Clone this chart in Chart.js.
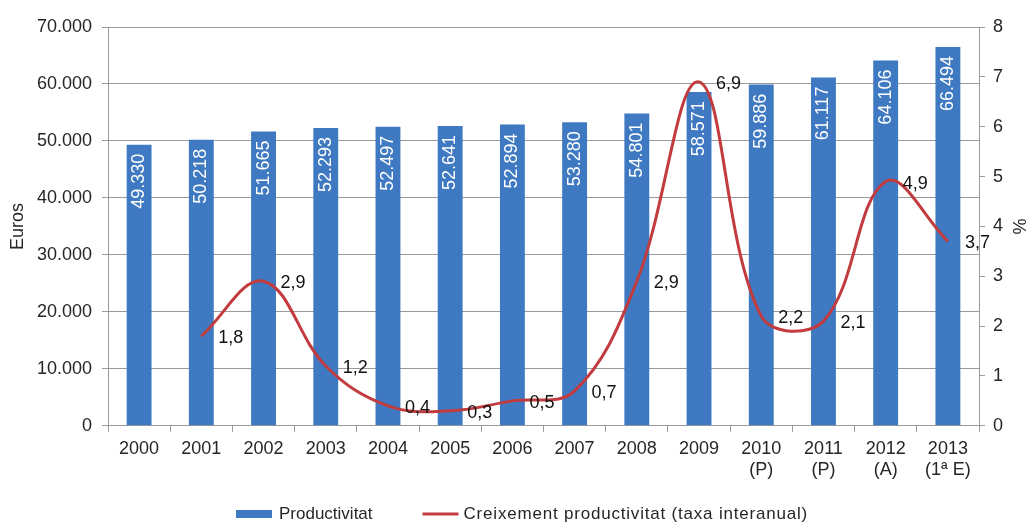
<!DOCTYPE html>
<html>
<head>
<meta charset="utf-8">
<title>Productivitat</title>
<script src="https://cdn.jsdelivr.net/npm/chart.js@4.4.1/dist/chart.umd.min.js"></script>
<style>
  html, body { margin: 0; padding: 0; background: #fff; }
  #wrap { width: 1030px; height: 523px; }
</style>
</head>
<body>
<div id="wrap"><canvas id="chart" width="1030" height="523"></canvas></div>
<script>
// Dades del gràfic
const categories = [
  "2000", "2001", "2002", "2003", "2004", "2005", "2006", "2007", "2008", "2009",
  ["2010", "(P)"], ["2011", "(P)"], ["2012", "(A)"], ["2013", "(1ª E)"]
];
const productivitat = [49330, 50218, 51665, 52293, 52497, 52641, 52894, 53280, 54801, 58571, 59886, 61117, 64106, 66494];
const creixement = [null, 1.8, 2.9, 1.2, 0.4, 0.3, 0.5, 0.7, 2.9, 6.9, 2.2, 2.1, 4.9, 3.7];
const eurosAxis = { min: 0, max: 70000, step: 10000 };
const pctAxis = { min: 0, max: 8, step: 1 };
const legendLabels = ["Productivitat", "Creixement productivitat (taxa interanual)"];

const FONT = "'Liberation Sans', Arial, sans-serif";
const TEXT = "#262626";
const BLUE = "#3e79c1";
const RED = "#c23b3e";
const GRID = "#9a9a9a";

// format 52.497 / 1,8
function fmtMiles(v) {
  return String(v).replace(/\B(?=(\d{3})+(?!\d))/g, ".");
}
function fmtPct(v) {
  return v.toFixed(1).replace(".", ",");
}

// Etiquetes blanques girades dins de les barres
const barLabels = {
  id: "barLabels",
  afterDatasetsDraw(chart) {
    const ctx = chart.ctx;
    const meta = chart.getDatasetMeta(0);
    ctx.save();
    ctx.font = "18px " + FONT;
    ctx.fillStyle = "#ffffff";
    ctx.textAlign = "right";
    ctx.textBaseline = "middle";
    meta.data.forEach(function (bar, i) {
      ctx.save();
      ctx.translate(bar.x, bar.y + 9);
      ctx.rotate(-Math.PI / 2);
      ctx.fillText(fmtMiles(productivitat[i]), 0, 0);
      ctx.restore();
    });
    ctx.restore();
  }
};

// Etiquetes de la línia, a la dreta de cada punt
const lineLabels = {
  id: "lineLabels",
  afterDatasetsDraw(chart) {
    const ctx = chart.ctx;
    const meta = chart.getDatasetMeta(1);
    ctx.save();
    ctx.font = "18px " + FONT;
    ctx.fillStyle = "#111111";
    ctx.textAlign = "left";
    ctx.textBaseline = "middle";
    meta.data.forEach(function (pt, i) {
      if (creixement[i] === null) return;
      ctx.fillText(fmtPct(creixement[i]), pt.x + 17, pt.y + 2);
    });
    ctx.restore();
  }
};

// Llegenda a sota
const bottomLegend = {
  id: "bottomLegend",
  afterDraw(chart) {
    const ctx = chart.ctx;
    ctx.save();
    ctx.font = "17px " + FONT;
    ctx.textBaseline = "middle";
    ctx.textAlign = "left";
    const w1 = 43 + ctx.measureText(legendLabels[0]).width;
    ctx.letterSpacing = "0.8px";
    const w2 = 41 + ctx.measureText(legendLabels[1]).width;
    ctx.letterSpacing = "0px";
    const gap = 50;
    const total = w1 + gap + w2;
    const y = chart.height - 9;
    let x = chart.width / 2 + 7 - total / 2;

    ctx.fillStyle = BLUE;
    ctx.fillRect(x, y - 4, 36, 8);
    ctx.fillStyle = TEXT;
    ctx.fillText(legendLabels[0], x + 43, y);

    x += w1 + gap;
    ctx.strokeStyle = RED;
    ctx.lineWidth = 3;
    ctx.beginPath();
    ctx.moveTo(x, y);
    ctx.lineTo(x + 36, y);
    ctx.stroke();
    ctx.fillStyle = TEXT;
    ctx.letterSpacing = "0.8px";
    ctx.fillText(legendLabels[1], x + 41, y);
    ctx.restore();
  }
};

const tickFont = { family: FONT, size: 18 };

new Chart(document.getElementById("chart"), {
  type: "bar",
  data: {
    labels: categories,
    datasets: [
      {
        type: "bar",
        label: legendLabels[0],
        data: productivitat,
        backgroundColor: BLUE,
        categoryPercentage: 1,
        barPercentage: 0.4,
        yAxisID: "y",
        order: 2
      },
      {
        type: "line",
        label: legendLabels[1],
        data: creixement,
        borderColor: RED,
        borderWidth: 3,
        pointRadius: 0,
        tension: 0.38,
        fill: false,
        yAxisID: "y1",
        order: 1
      }
    ]
  },
  options: {
    responsive: false,
    animation: false,
    devicePixelRatio: 1,
    layout: { padding: { top: 27, bottom: 36, left: 0, right: 0 } },
    plugins: {
      legend: { display: false },
      tooltip: { enabled: false }
    },
    scales: {
      x: {
        grid: { drawOnChartArea: false, tickLength: 6, color: GRID, offset: true },
        border: { color: GRID },
        ticks: { font: tickFont, color: TEXT, padding: 6, maxRotation: 0, autoSkip: false }
      },
      y: {
        position: "left",
        min: eurosAxis.min,
        max: eurosAxis.max,
        ticks: {
          stepSize: eurosAxis.step,
          font: tickFont,
          color: TEXT,
          padding: 10,
          callback: function (v) { return fmtMiles(v); }
        },
        grid: { color: GRID, tickLength: 6 },
        border: { color: GRID },
        title: { display: true, text: "Euros", font: tickFont, color: TEXT, padding: { top: 7, bottom: 4 } },
        afterFit: function (s) { s.width = 108; }
      },
      y1: {
        position: "right",
        min: pctAxis.min,
        max: pctAxis.max,
        ticks: { stepSize: pctAxis.step, font: tickFont, color: TEXT, padding: 8 },
        grid: { drawOnChartArea: false, tickLength: 6, color: GRID },
        border: { color: GRID },
        title: { display: true, text: "%", font: tickFont, color: TEXT, padding: { top: 1, bottom: 4 } },
        afterFit: function (s) { s.width = 51; }
      }
    }
  },
  plugins: [barLabels, lineLabels, bottomLegend]
});
</script>
</body>
</html>
